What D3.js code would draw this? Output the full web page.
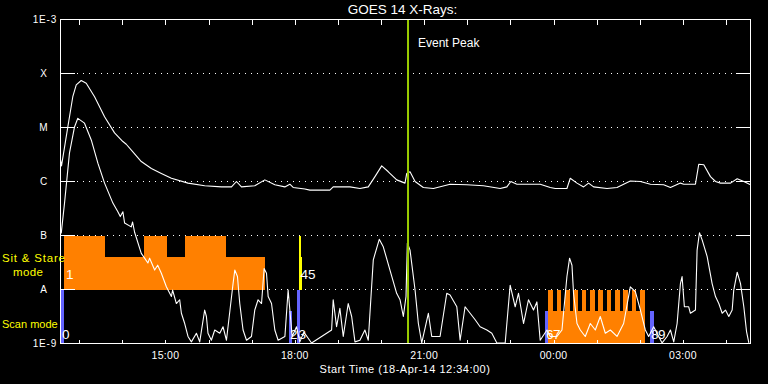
<!DOCTYPE html>
<html><head><meta charset="utf-8">
<script src="https://cdn.jsdelivr.net/npm/d3@7"></script>
<style>
html,body{margin:0;padding:0;background:#000;}
svg{display:block;background:#000;}
text{font-family:"Liberation Sans",Arial,sans-serif;}
</style></head><body>
<svg id="chart" width="768" height="384"></svg>
<script>
// ---------- data ----------
const startTime = new Date(2014, 3, 18, 12, 34, 0);
const spanMinutes = 960;
const levelLabels = ["1E-9", "A", "B", "C", "M", "X", "1E-3"];
const levelValues = [1e-9, 1e-8, 1e-7, 1e-6, 1e-5, 1e-4, 1e-3];
const tickLabelHours = [15, 18, 21, 0, 3];
const eventPeakMin = 483.5;

// [minutes after start, log10 flux]  GOES long channel (1-8 A)
const longChannel = [[0,-5.60],[1.4,-5.71],[10.2,-4.99],[17.1,-4.43],[21.9,-4.21],[28.8,-4.13],[35.8,-4.18],[47.4,-4.43],[61.3,-4.80],[75.2,-5.10],
[86.8,-5.26],[91.5,-5.31],[100.7,-5.45],[112.4,-5.63],[126.4,-5.76],[140.3,-5.85],[154.3,-5.94],[177.4,-6.03],[200.6,-6.08],[223.9,-6.10],
[237.9,-6.10],[244.8,-6.00],[251.8,-6.10],[270.3,-6.08],[284.3,-5.97],[298.2,-6.06],[312.1,-6.10],[319.1,-6.05],[323.7,-6.11],[340,-6.14],
[347,-6.16],[374.8,-6.16],[379.4,-6.10],[402.7,-6.10],[416.6,-6.13],[428.2,-6.10],[437.5,-5.91],[446.9,-5.71],[456.1,-5.82],[467.8,-5.97],
[479.3,-6.03],[481.7,-5.85],[486.3,-5.82],[493.3,-6.00],[504.8,-6.11],[518.8,-6.13],[542,-6.05],[565.3,-6.06],[588.4,-6.08],[611.7,-6.13],
[621,-6.10],[626.6,-6.00],[635,-6.05],[658.1,-6.05],[667.4,-6.05],[681.4,-6.11],[688.4,-6.13],[704.6,-6.13],[709.2,-5.94],[718.6,-6.03],
[727.8,-6.10],[734.7,-6.03],[741.7,-6.10],[760.4,-6.13],[774.3,-6.11],[792.8,-5.99],[806.8,-6.00],[820.7,-6.05],[839.2,-6.06],[848.6,-6.11],
[862.5,-6.03],[867.1,-6.05],[883.4,-6.05],[888,-5.68],[895,-5.69],[904.3,-5.91],[911.3,-6.00],[918.2,-6.03],[932.2,-6.03],[941.5,-5.95],
[950.7,-6.00],[960,-6.06]];

// [minutes after start, log10 flux]  GOES short channel (0.5-4 A)
const shortChannel = [[1,-6.96],[5.6,-6.40],[12.5,-5.47],[19.5,-4.99],[24.1,-4.83],[33.4,-4.92],[42.8,-5.23],[52,-5.66],[61.3,-6.03],[72.9,-6.40],
[79.8,-6.56],[83.2,-6.65],[86.8,-6.56],[89.2,-6.77],[98.4,-6.84],[100.3,-6.75],[103.1,-6.94],[112.4,-7.33],[117,-7.42],[121.6,-7.51],
[124,-7.42],[131,-7.64],[135.2,-7.55],[140.3,-7.70],[147.3,-7.95],[154.3,-8.13],[156,-8.01],[161.2,-8.26],[165.8,-8.19],[168.2,-8.44],
[172.8,-8.63],[177.4,-8.87],[182.1,-8.97],[189.1,-8.81],[193.7,-8.97],[200.6,-8.38],[203,-8.50],[205.2,-8.81],[209.9,-8.94],[214.6,-8.75],
[221.6,-8.81],[226.1,-8.69],[230.9,-8.94],[240.1,-7.89],[242.5,-7.64],[246.2,-7.76],[249.4,-8.26],[254,-8.75],[258.8,-8.94],[265.7,-8.87],
[270.3,-8.38],[274.9,-8.19],[279.7,-8.26],[283.3,-7.61],[286.6,-7.70],[288.9,-8.13],[293.6,-8.26],[298.2,-8.75],[302.8,-8.94],[312.2,-8.87],
[316.7,-8.01],[319.1,-8.38],[322.3,-8.87],[328.4,-8.69],[333,-8.97],[338.6,-8.79],[349.3,-8.99],[377.2,-8.75],[379.4,-8.19],[384.1,-8.69],
[388.7,-8.35],[393.4,-8.87],[400.3,-8.26],[405.1,-8.50],[409.7,-8.97],[416.6,-8.94],[423.5,-8.75],[428.2,-8.94],[435.2,-7.45],[443.5,-7.07],
[449.1,-7.21],[458.4,-7.64],[467.7,-8.07],[472.4,-8.19],[477,-8.50],[480.7,-8.13],[482.6,-7.14],[486.3,-7.27],[493.3,-8.01],[497.9,-8.63],
[502.6,-8.99],[511.8,-8.44],[516.5,-8.87],[528.1,-8.87],[537.4,-8.07],[542,-8.10],[551.4,-8.32],[556,-8.94],[562.9,-8.32],[569.9,-8.44],
[576.9,-8.56],[583.8,-8.69],[593.2,-8.75],[600.1,-8.81],[607.1,-8.99],[618.7,-8.99],[625.6,-7.92],[632.6,-8.32],[637.2,-8.07],[644.2,-8.63],
[651.1,-8.19],[658.1,-8.38],[662.8,-8.23],[667.4,-8.94],[676.8,-8.75],[681.4,-8.87],[690.7,-8.87],[697.7,-8.75],[704.6,-7.76],[708.3,-7.42],
[711.6,-7.55],[713.8,-8.07],[718.6,-8.63],[723.2,-8.75],[730.1,-8.87],[737.1,-8.63],[744.1,-8.75],[751,-8.50],[758,-8.81],[765,-8.75],
[774.3,-8.87],[783.5,-8.63],[792.8,-7.95],[799.8,-8.04],[806.8,-8.38],[813.7,-8.75],[818.3,-8.87],[825.3,-8.69],[832.3,-8.87],[837,-8.99],
[844,-8.87],[848.6,-8.75],[853.2,-8.97],[857.9,-8.63],[862.5,-7.89],[864.8,-7.76],[868,-8.32],[874,-8.32],[876.4,-8.44],[883.4,-8.38],
[885.7,-7.27],[889,-6.95],[892.7,-7.08],[899.7,-7.39],[906.6,-7.89],[911.3,-8.13],[915.9,-8.26],[920.6,-8.44],[925.2,-8.38],[929.8,-8.50],
[934.5,-8.38],[936.7,-8.01],[941.5,-7.68],[946.1,-7.89],[950.7,-8.32],[954.5,-8.78],[957.7,-8.99]];

// observation mode bars: [start min, end min, top log10, bottom log10]
const scanBars = [[-0.4,4.2,-8,-9],[318.1,321.9,-8.39,-9],[328.8,332.6,-8,-9],[674.4,678.6,-8.39,-9],[820.7,825.3,-8.39,-9]];
const sitStareBars = [[4.2,61.3,-7,-8],[61.3,115.7,-7.39,-8],[115.7,148.7,-7,-8],[148.7,172.8,-7.39,-8],[172.8,229.9,-7,-8],[229.9,285.2,-7.39,-8],
  [678.6,813.8,-8.39,-9]];
const combTeeth = [[678.6,685.1],[690.2,696.7],[701.9,708.4],[713.4,720.0],[725.0,731.5],[736.7,743.2],[748.3,754.8],[759.8,766.4],
  [771.5,778.1],[783.1,789.6],[794.7,801.2],[806.4,813.8]];
const combTop = -8, combBottom = -8.39;
const yellowBars = [[331.4,334.2,-7,-8],[334.2,335.6,-7.39,-8]];
// [label, minutes, row] row: "scan" or "sit"
const modeLabels = [["0",2.1,"scan"],["1",7.7,"sit"],["2",319.3,"scan"],["3",331.1,"scan"],["4",333.9,"sit"],["5",344.3,"sit"],
  ["6",675.5,"scan"],["7",685.2,"scan"],["8",821.6,"scan"],["9",831.3,"scan"]];

// ---------- drawing ----------
const svg = d3.select("#chart");
const addMin = m => new Date(startTime.getTime() + m * 60000);
const x = d3.scaleTime().domain([startTime, addMin(spanMinutes)]).range([60.5, 750.5]);
const y = d3.scaleLog().domain([1e-9, 1e-3]).range([343.5, 19.5]);
const L = 60.5, R = 750.5, T = 19.5, B = 343.5;
const ORANGE = "#ff8000", BLUE = "#6464ff", YELLOW = "#ffff00", GREEN = "#9acd00";

// grid (dotted) lines
const inner = levelValues.slice(1, -1);
svg.append("g").selectAll("line").data(inner).join("line")
  .attr("x1", 75).attr("x2", 736).attr("y1", d => y(d)).attr("y2", d => y(d))
  .attr("stroke", "#fff").attr("stroke-width", 1).attr("stroke-dasharray", "1,5")
  .attr("stroke-dashoffset", -2).attr("shape-rendering", "crispEdges");

// bars
const rectFrom = (g, data, color) => g.selectAll(null).data(data).join("rect")
  .attr("x", d => x(addMin(d[0]))).attr("width", d => x(addMin(d[1])) - x(addMin(d[0])))
  .attr("y", d => y(10 ** d[2])).attr("height", d => y(10 ** d[3]) - y(10 ** d[2]))
  .attr("fill", color).attr("shape-rendering", "crispEdges");
const bars = svg.append("g");
rectFrom(bars, sitStareBars, ORANGE);
rectFrom(bars, combTeeth.map(t => [t[0], t[1], combTop, combBottom]), ORANGE);
rectFrom(bars, scanBars, BLUE);
rectFrom(bars, yellowBars, YELLOW);

// side ticks
svg.append("g").selectAll("line").data(inner).join("line")
  .attr("x1", L).attr("x2", 75).attr("y1", d => y(d)).attr("y2", d => y(d))
  .attr("stroke", "#fff").attr("shape-rendering", "crispEdges");
svg.append("g").selectAll("line").data(inner).join("line")
  .attr("x1", 736).attr("x2", R).attr("y1", d => y(d)).attr("y2", d => y(d))
  .attr("stroke", "#fff").attr("shape-rendering", "crispEdges");

// curves
const line = d3.line().x(d => x(addMin(d[0]))).y(d => y(10 ** d[1]));
svg.append("path").datum(longChannel).attr("d", line).attr("fill", "none")
  .attr("stroke", "#fff").attr("stroke-width", 1.1).attr("stroke-linejoin", "round");
svg.append("path").datum(shortChannel).attr("d", line).attr("fill", "none")
  .attr("stroke", "#fff").attr("stroke-width", 1.1).attr("stroke-linejoin", "round");

// mode labels
svg.append("g").selectAll("text").data(modeLabels).join("text")
  .attr("x", d => x(addMin(d[1])))
  .attr("y", d => d[2] === "scan" ? y(1e-9) - 5 : y(1e-8) - 11)
  .attr("fill", "#fff").attr("font-size", 13.5).text(d => d[0]);

// event peak line
svg.append("line").attr("x1", x(addMin(eventPeakMin))).attr("x2", x(addMin(eventPeakMin)))
  .attr("y1", T).attr("y2", B).attr("stroke", GREEN).attr("stroke-width", 2);
svg.append("text").attr("x", x(addMin(eventPeakMin)) + 10).attr("y", 47)
  .attr("fill", "#fff").attr("font-size", 12).text("Event Peak");

// frame
svg.append("rect").attr("x", L).attr("y", T).attr("width", R - L).attr("height", B - T)
  .attr("fill", "none").attr("stroke", "#fff").attr("shape-rendering", "crispEdges");

// hour ticks top & bottom
const hours = d3.timeHour.range(addMin(1), addMin(spanMinutes));
svg.append("g").selectAll("line").data(hours).join("line")
  .attr("x1", d => Math.round(x(d)) + 0.5).attr("x2", d => Math.round(x(d)) + 0.5)
  .attr("y1", T).attr("y2", T + 5).attr("stroke", "#fff").attr("shape-rendering", "crispEdges");
svg.append("g").selectAll("line").data(hours).join("line")
  .attr("x1", d => Math.round(x(d)) + 0.5).attr("x2", d => Math.round(x(d)) + 0.5)
  .attr("y1", B).attr("y2", B - 4).attr("stroke", "#fff").attr("shape-rendering", "crispEdges");

// tick labels
const fmt = d3.timeFormat("%H:%M");
svg.append("g").selectAll("text").data(hours.filter(h => tickLabelHours.includes(h.getHours()))).join("text")
  .attr("x", d => x(d)).attr("y", 359).attr("text-anchor", "middle")
  .attr("fill", "#fff").attr("font-size", 10.5).attr("letter-spacing", 0.3).text(d => fmt(d));

// y labels
svg.append("g").selectAll("text").data(levelLabels).join("text")
  .attr("x", d => d.length > 1 ? 57 : 43.5)
  .attr("y", (d, i) => y(levelValues[i]) + 3.5)
  .attr("text-anchor", d => d.length > 1 ? "end" : "middle")
  .attr("fill", "#fff").attr("font-size", 10).attr("letter-spacing", d => d.length > 1 ? 0.8 : 0).text(d => d);

// mode row titles
svg.append("text").attr("x", 2).attr("y", 262).attr("fill", YELLOW).attr("font-size", 11.5).attr("letter-spacing", 0.8).text("Sit & Stare");
svg.append("text").attr("x", 13).attr("y", 276).attr("fill", YELLOW).attr("font-size", 11.5).attr("letter-spacing", 0.4).text("mode");
svg.append("text").attr("x", 2).attr("y", 328).attr("fill", YELLOW).attr("font-size", 11).text("Scan mode");

// titles
svg.append("text").attr("x", 402.5).attr("y", 14).attr("text-anchor", "middle")
  .attr("fill", "#fff").attr("font-size", 13.5).text("GOES 14 X-Rays:");
svg.append("text").attr("x", 405).attr("y", 373).attr("text-anchor", "middle")
  .attr("fill", "#fff").attr("font-size", 11).attr("letter-spacing", 0.5)
  .text("Start Time (" + d3.timeFormat("%d-%b-%y %H:%M:%S")(startTime) + ")");
</script>
</body></html>
